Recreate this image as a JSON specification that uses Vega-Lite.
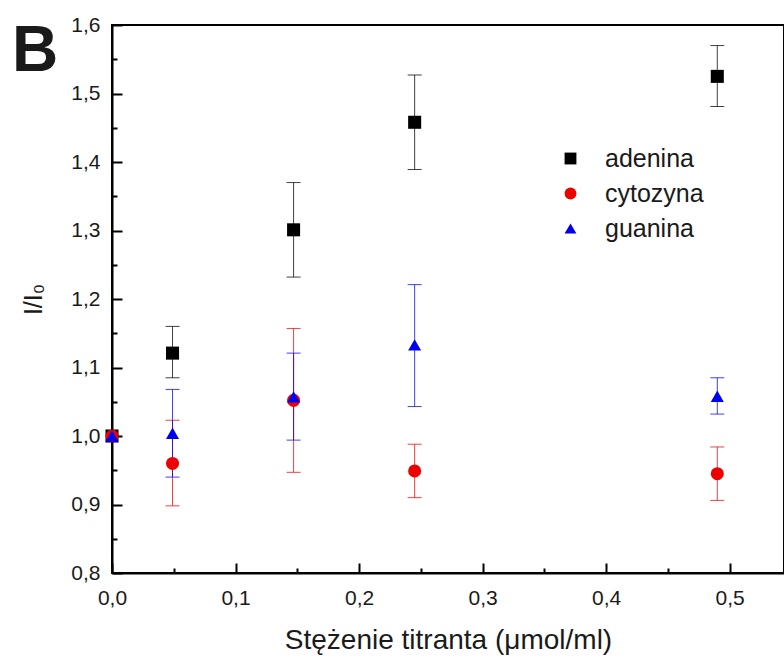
{
  "$schema": "https://vega.github.io/schema/vega-lite/v6.json",
  "autosize": "none",
  "width": 672,
  "height": 548,
  "padding": {"left": 112, "top": 25, "right": 0, "bottom": 85},
  "background": "white",
  "title": {"text": "B", "anchor": "start", "frame": "group", "orient": "top", "offset": 0, "dx": -100, "dy": 70, "font": "Liberation Sans", "fontSize": 64, "fontWeight": "bold", "color": "#1a1a1a"},
  "config": {
    "view": {"stroke": "black", "strokeWidth": 2},
    "font": "Liberation Sans",
    "axis": {"grid": false, "domainColor": "black", "domainWidth": 2, "tickColor": "black", "tickWidth": 2, "labelFont": "Liberation Sans", "labelFontSize": 21, "labelColor": "#1a1a1a", "titleFont": "Liberation Sans", "titleFontSize": 26, "titleFontWeight": "normal", "titleColor": "#1a1a1a"}
  },
  "data": {"values": [
    {"series": "adenina", "x": 0.0, "y": 1.0, "lo": 1.0, "hi": 1.0},
    {"series": "adenina", "x": 0.049, "y": 1.121, "lo": 1.085, "hi": 1.16},
    {"series": "adenina", "x": 0.147, "y": 1.301, "lo": 1.232, "hi": 1.37},
    {"series": "adenina", "x": 0.245, "y": 1.458, "lo": 1.389, "hi": 1.527},
    {"series": "adenina", "x": 0.49, "y": 1.525, "lo": 1.481, "hi": 1.57},
    {"series": "cytozyna", "x": 0.0, "y": 1.0, "lo": 1.0, "hi": 1.0},
    {"series": "cytozyna", "x": 0.049, "y": 0.96, "lo": 0.898, "hi": 1.023},
    {"series": "cytozyna", "x": 0.147, "y": 1.052, "lo": 0.947, "hi": 1.157},
    {"series": "cytozyna", "x": 0.245, "y": 0.949, "lo": 0.91, "hi": 0.988},
    {"series": "cytozyna", "x": 0.49, "y": 0.945, "lo": 0.906, "hi": 0.984},
    {"series": "guanina", "x": 0.0, "y": 1.0, "lo": 1.0, "hi": 1.0},
    {"series": "guanina", "x": 0.049, "y": 1.004, "lo": 0.94, "hi": 1.068},
    {"series": "guanina", "x": 0.147, "y": 1.057, "lo": 0.994, "hi": 1.121},
    {"series": "guanina", "x": 0.245, "y": 1.133, "lo": 1.043, "hi": 1.221},
    {"series": "guanina", "x": 0.49, "y": 1.058, "lo": 1.032, "hi": 1.085}
  ]},
  "encoding": {
    "x": {"field": "x", "type": "quantitative", "scale": {"domain": [0, 0.544], "nice": false, "zero": false},
      "axis": {"title": "Stężenie titranta (μmol/ml)", "titleFontSize": 28, "titlePadding": 13, "values": [0, 0.05, 0.1, 0.15, 0.2, 0.25, 0.3, 0.35, 0.4, 0.45, 0.5],
        "labelExpr": "abs(round(datum.value*10) - datum.value*10) < 0.01 ? replace(format(datum.value, '.1f'), '.', ',') : ''",
        "tickSize": {"expr": "abs(round(datum.value*10) - datum.value*10) < 0.01 ? -10 : -5"}, "labelPadding": 24, "labelFontSize": 21, "labelFlush": false, "labelOverlap": false}
    },
    "color": {"field": "series", "type": "nominal", "scale": {"domain": ["adenina", "cytozyna", "guanina"], "range": ["#000000", "#ee0000", "#0000ee"]},
      "legend": {"title": null, "orient": "none", "legendX": 446, "legendY": 121, "labelFontSize": 25, "labelFont": "Liberation Sans", "labelColor": "#1a1a1a", "symbolSize": 140, "symbolOpacity": 1, "labelOffset": 22, "rowPadding": 9, "padding": 0, "symbolStrokeWidth": 0}
    }
  },
  "layer": [
    {
      "transform": [{"filter": "datum.x > 0"}],
      "mark": {"type": "errorbar", "ticks": {"size": 14, "opacity": 0.75}, "rule": {"opacity": 0.75}, "thickness": 1},
      "encoding": {
        "y": {"field": "lo", "type": "quantitative", "scale": {"domain": [0.8, 1.6], "nice": false, "zero": false},
          "axis": {"title": "I/I₀", "titleFontSize": 25, "titlePadding": 24, "values": [0.8, 0.85, 0.9, 0.95, 1.0, 1.05, 1.1, 1.15, 1.2, 1.25, 1.3, 1.35, 1.4, 1.45, 1.5, 1.55, 1.6],
            "labelExpr": "abs(round(datum.value*10) - datum.value*10) < 0.01 ? replace(format(datum.value, '.1f'), '.', ',') : ''",
            "tickSize": {"expr": "abs(round(datum.value*10) - datum.value*10) < 0.01 ? -10 : -5"}, "labelPadding": 22, "labelFontSize": 21, "labelFlush": false, "labelOverlap": false}},
        "y2": {"field": "hi"}
      }
    },
    {
      "mark": {"type": "point", "filled": true, "opacity": 1, "size": 170},
      "encoding": {
        "y": {"field": "y", "type": "quantitative", "scale": {"domain": [0.8, 1.6], "nice": false, "zero": false},
          "axis": {"title": "I/I₀", "titleFontSize": 25, "titlePadding": 24, "values": [0.8, 0.85, 0.9, 0.95, 1.0, 1.05, 1.1, 1.15, 1.2, 1.25, 1.3, 1.35, 1.4, 1.45, 1.5, 1.55, 1.6],
            "labelExpr": "abs(round(datum.value*10) - datum.value*10) < 0.01 ? replace(format(datum.value, '.1f'), '.', ',') : ''",
            "tickSize": {"expr": "abs(round(datum.value*10) - datum.value*10) < 0.01 ? -10 : -5"}, "labelPadding": 22, "labelFontSize": 21, "labelFlush": false, "labelOverlap": false}},
        "shape": {"field": "series", "type": "nominal", "scale": {"domain": ["adenina", "cytozyna", "guanina"], "range": ["square", "circle", "triangle-up"]}}
      }
    }
  ]
}
